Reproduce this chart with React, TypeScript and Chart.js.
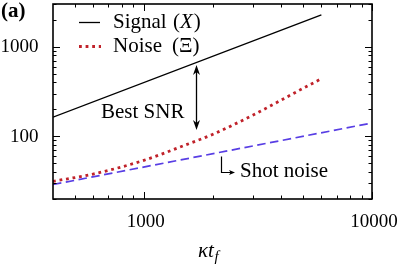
import { useEffect, useRef } from "react";
import { Chart, registerables } from "chart.js";

Chart.register(...registerables);

// ---- data ----
const signalT = [400, 6000];
const signalV = [164, 2270];
const noiseT = [400, 600, 1000, 1500, 2000, 3000, 4000, 5000, 6000];
const noiseV = [31.5, 38, 54, 79, 105, 172, 254, 345, 440];
const shotT = [400, 10000];
const shotV = [29, 141];

const xMajor = [1000, 10000];
const xTickLabels = ["1000", "10000"];
const xMinor = [500, 600, 700, 800, 900, 2000, 3000, 4000, 5000, 6000, 7000, 8000, 9000];
const yMajor = [100, 1000];
const yTickLabels = ["100", "1000"];
const yMinor = [20, 30, 40, 50, 60, 70, 80, 90, 200, 300, 400, 500, 600, 700, 800, 900, 2000, 3000];

const SERIF = "'Liberation Serif', 'DejaVu Serif', serif";
const RED = "rgb(192,34,42)";
const BLUE = "rgb(88,62,228)";

const toXY = (xs: number[], ys: number[]) => xs.map((x, i) => ({ x, y: ys[i] }));

const decorPlugin = {
  id: "decor",
  afterDraw(chart: any) {
    const ctx: CanvasRenderingContext2D = chart.ctx;
    const { left, right, top, bottom } = chart.chartArea;
    const xs = chart.scales.x;
    const ys = chart.scales.y;
    ctx.save();
    ctx.strokeStyle = "#000";
    ctx.fillStyle = "#000";

    // ticks
    ctx.lineWidth = 1;
    const majorLen = 7;
    const minorLen = 3.5;
    const xt = (v: number, len: number) => {
      const p = Math.round(xs.getPixelForValue(v)) + 0.5;
      ctx.beginPath();
      ctx.moveTo(p, bottom);
      ctx.lineTo(p, bottom - len);
      ctx.moveTo(p, top);
      ctx.lineTo(p, top + len);
      ctx.stroke();
    };
    const yt = (v: number, len: number) => {
      const p = Math.round(ys.getPixelForValue(v)) + 0.5;
      ctx.beginPath();
      ctx.moveTo(left, p);
      ctx.lineTo(left + len, p);
      ctx.moveTo(right, p);
      ctx.lineTo(right - len, p);
      ctx.stroke();
    };
    xMinor.forEach((v) => xt(v, minorLen));
    xMajor.forEach((v) => xt(v, majorLen));
    yMinor.forEach((v) => yt(v, minorLen));
    yMajor.forEach((v) => yt(v, majorLen));

    // frame
    ctx.lineWidth = 1.6;
    ctx.strokeRect(left, top, right - left, bottom - top);

    // tick labels
    ctx.font = `19px ${SERIF}`;
    ctx.textAlign = "center";
    ctx.textBaseline = "alphabetic";
    xMajor.forEach((v, i) => {
      ctx.fillText(xTickLabels[i], xs.getPixelForValue(v) + 2, 227);
    });
    ctx.textAlign = "right";
    ctx.textBaseline = "middle";
    yMajor.forEach((v, i) => {
      ctx.fillText(yTickLabels[i], 38.5, ys.getPixelForValue(v) + 0.5);
    });

    // (a)
    ctx.textAlign = "left";
    ctx.textBaseline = "alphabetic";
    ctx.font = `bold 21px ${SERIF}`;
    ctx.fillText("(a)", 1, 17);

    // axis label κt_f
    ctx.font = `italic 21px ${SERIF}`;
    ctx.fillText("κt", 198, 257);
    const wk = ctx.measureText("κt").width;
    ctx.font = `italic 15px ${SERIF}`;
    ctx.fillText("f", 198 + wk + 0.5, 261);

    // legend
    ctx.lineWidth = 1.3;
    ctx.beginPath();
    ctx.moveTo(79, 22.5);
    ctx.lineTo(100, 22.5);
    ctx.stroke();
    ctx.save();
    ctx.strokeStyle = RED;
    ctx.lineWidth = 2.8;
    ctx.setLineDash([2.8, 3.8]);
    ctx.beginPath();
    ctx.moveTo(79, 46.5);
    ctx.lineTo(101, 46.5);
    ctx.stroke();
    ctx.restore();

    ctx.font = `21px ${SERIF}`;
    ctx.fillText("Signal", 113, 28);
    ctx.fillText("(", 173, 28);
    const w = ctx.measureText("(").width;
    ctx.font = `italic 21px ${SERIF}`;
    ctx.fillText("X", 173 + w, 28);
    const wx = ctx.measureText("X").width;
    ctx.font = `21px ${SERIF}`;
    ctx.fillText(")", 173 + w + wx + 1, 28);

    ctx.fillText("Noise", 113, 52);
    ctx.fillText("(Ξ)", 172, 52);

    // Best SNR
    ctx.fillText("Best SNR", 101, 118);
    // double arrow
    const ax = 196.5;
    const y1 = 65;
    const y2 = 130;
    ctx.lineWidth = 1.3;
    ctx.beginPath();
    ctx.moveTo(ax, y1 + 4);
    ctx.lineTo(ax, y2 - 4);
    ctx.stroke();
    const head = (tipY: number, dir: number) => {
      ctx.beginPath();
      ctx.moveTo(ax, tipY);
      ctx.lineTo(ax - 3.5, tipY + dir * 10);
      ctx.lineTo(ax, tipY + dir * 7);
      ctx.lineTo(ax + 3.5, tipY + dir * 10);
      ctx.closePath();
      ctx.fill();
    };
    head(y1, 1);
    head(y2, -1);

    // Shot noise L-arrow
    ctx.lineWidth = 1.2;
    ctx.beginPath();
    ctx.moveTo(221.5, 156.5);
    ctx.lineTo(221.5, 172.5);
    ctx.lineTo(232, 172.5);
    ctx.stroke();
    ctx.beginPath();
    ctx.moveTo(235, 172.5);
    ctx.lineTo(229, 170);
    ctx.lineTo(230.5, 172.5);
    ctx.lineTo(229, 175);
    ctx.closePath();
    ctx.fill();
    ctx.fillText("Shot noise", 240, 177);

    ctx.restore();
  },
};

export default function App() {
  const ref = useRef<HTMLCanvasElement | null>(null);
  useEffect(() => {
    if (!ref.current) return;
    const chart = new Chart(ref.current, {
      type: "line",
      data: {
        datasets: [
          {
            label: "Signal",
            data: toXY(signalT, signalV),
            borderColor: "#000",
            borderWidth: 1.3,
            pointRadius: 0,
          },
          {
            label: "Noise",
            data: toXY(noiseT, noiseV),
            borderColor: RED,
            borderWidth: 2.8,
            borderDash: [2.8, 3.8],
            borderCapStyle: "butt",
            cubicInterpolationMode: "monotone",
            pointRadius: 0,
          },
          {
            label: "Shot noise",
            data: toXY(shotT, shotV),
            borderColor: BLUE,
            borderWidth: 1.7,
            borderDash: [8.5, 4.5],
            pointRadius: 0,
          },
        ],
      },
      options: {
        responsive: false,
        animation: false,
        devicePixelRatio: 1,
        layout: { padding: { left: 53, right: 27, top: 4, bottom: 65 } },
        plugins: { legend: { display: false }, tooltip: { enabled: false } },
        scales: {
          x: { type: "logarithmic", min: 400, max: 10000, display: false },
          y: { type: "logarithmic", min: 20, max: 3000, display: false },
        },
      },
      plugins: [decorPlugin],
    } as any);
    let alive = true;
    const fonts: any = (document as any).fonts;
    if (fonts && fonts.load) {
      Promise.all([
        fonts.load("21px 'Liberation Serif'"),
        fonts.load("italic 21px 'Liberation Serif'"),
        fonts.load("bold 21px 'Liberation Serif'"),
      ])
        .then(() => {
          if (alive) chart.draw();
        })
        .catch(() => {});
    }
    return () => {
      alive = false;
      chart.destroy();
    };
  }, []);
  return (
    <div style={{ position: "fixed", left: 0, top: 0, width: 399, height: 264, background: "#fff" }}>
      <canvas ref={ref} width={399} height={264} style={{ display: "block" }} />
    </div>
  );
}
